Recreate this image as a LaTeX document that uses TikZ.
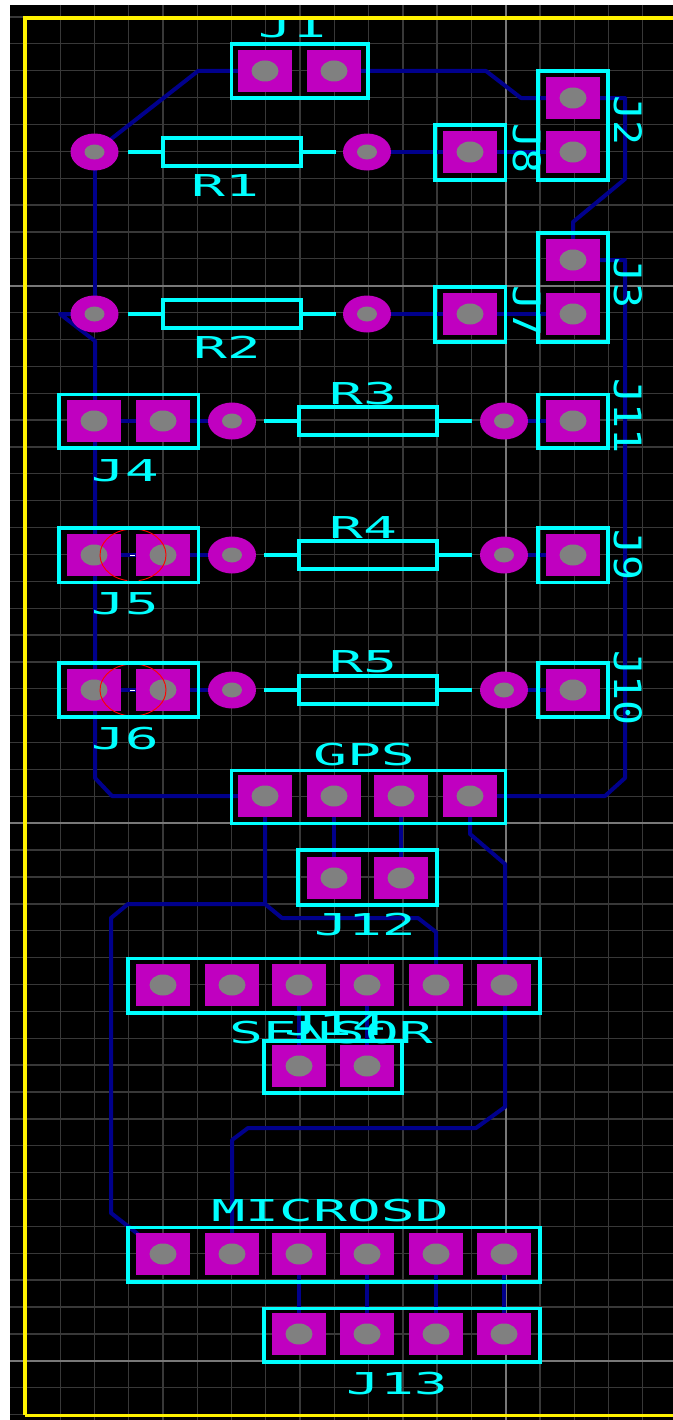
\documentclass[tikz,border=0pt]{standalone}
\usepackage{fontspec}
\setmainfont{DejaVu Sans Mono}
\usetikzlibrary{shapes.geometric}
\pgfdeclarelayer{boardlayer}
\pgfdeclarelayer{tracelayer}
\pgfsetlayers{boardlayer,tracelayer,main}
\definecolor{boardminor}{HTML}{383838}
\definecolor{boardmajor}{HTML}{787878}
\definecolor{padcol}{HTML}{C000C0}
\definecolor{holecol}{HTML}{808080}
\definecolor{tracecol}{HTML}{00008C}
\definecolor{silk}{HTML}{00FFFF}
\tikzset{
  padbox/.style={rectangle,fill=padcol,draw=none,inner sep=0pt,outer sep=0pt,minimum width=40.5pt,minimum height=31.5pt},
  viabox/.style={ellipse,fill=padcol,draw=none,inner sep=0pt,outer sep=0pt,minimum width=36pt,minimum height=27.75pt},
  holepad/.style={ellipse,fill=holecol,draw=none,inner sep=0pt,outer sep=0pt,minimum width=20.25pt,minimum height=15.75pt},
  holevia/.style={ellipse,fill=holecol,draw=none,inner sep=0pt,outer sep=0pt,minimum width=15pt,minimum height=11.25pt},
  silkline/.style={draw=silk,line width=2.4pt},
  lead/.style={draw=silk,line width=2.4pt},
  wire/.style={draw=tracecol,line width=3pt,line join=round},
  ref/.style={text=silk,inner sep=0pt,outer sep=0pt,text height=16.5pt,text depth=0pt,font=\fontsize{22.6}{23}\selectfont},
  hlabel/.style={ref,transform shape,xscale=1.87,yscale=1},
  vlabel/.style={ref,transform shape,rotate=-90,xscale=1.38,yscale=1.25},
}
\newcommand{\padat}[3]{\node[padbox] (#1) at (#2,#3) {};\node[holepad] (#1h) at (#2,#3) {};}
\newcommand{\viaat}[3]{\node[viabox] (#1) at (#2,#3) {};\node[holevia] (#1h) at (#2,#3) {};}
\newcommand{\resistor}[2]{% x1, y
  \draw[silkline] (#1,#2-14) rectangle (#1+138,#2+14);
  \draw[lead] (#1-35,#2) -- (#1,#2);
  \draw[lead] (#1+138,#2) -- (#1+173,#2);}
\begin{document}
\begin{tikzpicture}[x=0.75pt,y=-0.75pt]
\useasboundingbox (0,0) rectangle (672,1420);
\begin{pgfonlayer}{boardlayer}
\fill[white] (0,0) rectangle (700,1420);
\fill[black] (10,5) rectangle (700,1420);
\begin{scope}
\clip (10,5) rectangle (700,1420);
\foreach \k in {-13,...,5} {\draw[boardminor,line width=1pt] (505.7+34.27*\k,5) -- (505.7+34.27*\k,1420);}
\foreach \k in {-10,...,42} {\draw[boardminor,line width=1pt] (10,285.7+26.875*\k) -- (700,285.7+26.875*\k);}
\draw[boardmajor,line width=1.5pt] (505.7,5) -- (505.7,1420);
\foreach \yy in {285.7,822.5,1361} {\draw[boardmajor,line width=1.5pt] (10,\yy) -- (700,\yy);}
\end{scope}
\end{pgfonlayer}

% pads
\padat{jA}{265}{71}\padat{jB}{334}{71}
\padat{jiiA}{573}{98}\padat{jiiB}{573}{152}
\padat{jiiiA}{573}{260}\padat{jiiiB}{573}{314}
\padat{jviii}{470}{152}\padat{jvii}{470}{314}
\padat{jivA}{94}{421}\padat{jivB}{163}{421}
\padat{jvA}{94}{555}\padat{jvB}{163}{555}
\padat{jviA}{94}{690}\padat{jviB}{163}{690}
\padat{jxi}{573}{421}\padat{jix}{573}{555}\padat{jx}{573}{690}
\padat{gA}{265}{796}\padat{gB}{334}{796}\padat{gC}{401}{796}\padat{gD}{470}{796}
\padat{jxiiA}{334}{878}\padat{jxiiB}{401}{878}
\padat{kA}{163}{985}\padat{kB}{232}{985}\padat{kC}{299}{985}\padat{kD}{367}{985}\padat{kE}{436}{985}\padat{kF}{504}{985}
\padat{sA}{299}{1066}\padat{sB}{367}{1066}
\padat{mA}{163}{1254}\padat{mB}{232}{1254}\padat{mC}{299}{1254}\padat{mD}{367}{1254}\padat{mE}{436}{1254}\padat{mF}{504}{1254}
\padat{nA}{299}{1334}\padat{nB}{367}{1334}\padat{nC}{436}{1334}\padat{nD}{504}{1334}
% vias
\viaat{vA}{94.5}{152}\viaat{vB}{367}{152}
\viaat{vC}{94.5}{314}\viaat{vD}{367}{314}
\viaat{vE}{232}{421}\viaat{vF}{504}{421}
\viaat{vG}{232}{555}\viaat{vH}{504}{555}
\viaat{vI}{232}{690}\viaat{vJ}{504}{690}

% traces
\begin{pgfonlayer}{tracelayer}
\draw[wire] (vA.center) -- (198,71) -- (jA.center);
\draw[wire] (jB.center) -- (486,71) -- (521,98) -- (jiiA.center);
\draw[wire] (jiiA.center) -- (625,98) -- (625,179) -- (573,222) -- (jiiiA.center);
\draw[wire] (vB.center) -- (jviii.center) -- (jiiB.center);
\draw[wire] (vD.center) -- (jvii.center) -- (jiiiB.center);
\draw[wire] (vA.center) -- (vC.center);
\draw[wire] (vC.center) -- (60,314) -- (95,341) -- (95,778) -- (112,796) -- (gA.center);
\draw[wire] (jiiiA.center) -- (625,260) -- (625,778) -- (605,796) -- (gD.center);
\draw[wire] (jivA.center) -- (jivB.center) -- (vE.center);
\draw[wire] (jvA.center) -- (jvB.center) -- (vG.center);
\draw[wire] (jviA.center) -- (jviB.center) -- (vI.center);
\draw[wire] (vF.center) -- (jxi.center);
\draw[wire] (vH.center) -- (jix.center);
\draw[wire] (vJ.center) -- (jx.center);
\draw[wire] (gB.center) -- (jxiiA.center);
\draw[wire] (gC.center) -- (jxiiB.center);
\draw[wire] (gA.center) -- (265,904) -- (282,918) -- (418,918) -- (436,932) -- (kE.center);
\draw[wire] (265,904) -- (128,904) -- (111,918) -- (111,1213) -- (129,1227) -- (mA.center);
\draw[wire] (gD.center) -- (470,834) -- (505,864) -- (505,1107) -- (476,1128) -- (248,1128) -- (232,1140) -- (mB.center);
\draw[wire] (kC.center) -- (sA.center);
\draw[wire] (kD.center) -- (sB.center);
\draw[wire] (mC.center) -- (nA.center);
\draw[wire] (mD.center) -- (nB.center);
\draw[wire] (mE.center) -- (nC.center);
\draw[wire] (mF.center) -- (nD.center);
\end{pgfonlayer}

% red circles and centre marks
\foreach \yy in {555,690} {
  \draw[red,line width=0.7pt] (133,\yy) ++(100:33 and 26) arc[start angle=100,end angle=260,x radius=33,y radius=26];
  \draw[red,line width=0.7pt] (133,\yy) ++(-80:33 and 26) arc[start angle=-80,end angle=80,x radius=33,y radius=26];
  \draw[white,line width=0.5pt] (130,\yy) -- (135,\yy);
}

% resistors
\resistor{163}{152}
\resistor{163}{314}
\resistor{299}{421}
\resistor{299}{555}
\resistor{299}{690}

% labels
\begin{scope}
\clip (10,19) rectangle (672,1420);
\node[hlabel] (lJ1) at (292,27) {J1};
\end{scope}
\node[hlabel] (lR1) at (225,185) {R1};
\node[hlabel] (lR2) at (227,347) {R2};
\node[hlabel] (lR3) at (363,393) {R3};
\node[hlabel] (lR4) at (363,527) {R4};
\node[hlabel] (lR5) at (363,661) {R5};
\node[hlabel] (lJ4) at (125,470) {J4};
\node[hlabel] (lJ5) at (125,603) {J5};
\node[hlabel] (lJ6) at (125,738) {J6};
\node[hlabel] (lGPS) at (364,754) {GPS};
\node[hlabel] (lJ12) at (365,924) {J12};
\node[hlabel] (lJ14) at (335,1024) {J14};
\node[hlabel] (lSENSOR) at (331,1032) {SENSOR};
\node[hlabel] (lMICROSD) at (330,1210) {MICROSD};
\node[hlabel] (lJ13) at (397,1383) {J13};
\node[vlabel] (lJ8) at (527,149) {J8};
\node[vlabel] (lJ7) at (527,311) {J7};
\node[vlabel] (lJ2) at (628,121) {J2};
\node[vlabel] (lJ3) at (628,283) {J3};
\node[vlabel] (lJ11) at (628,416) {J11};
\node[vlabel] (lJ9) at (628,555) {J9};
\node[vlabel] (lJ10) at (628,688) {J10};

% silkscreen outlines
\draw[silkline] (231.5,44) rectangle (368,98);
\draw[silkline] (538,71) rectangle (608,180);
\draw[silkline] (538,233) rectangle (608,342);
\draw[silkline] (435,125) rectangle (505.5,180);
\draw[silkline] (435,287) rectangle (505.5,342);
\draw[silkline] (59,394.5) rectangle (198.5,448);
\draw[silkline] (59,528) rectangle (198.5,582.5);
\draw[silkline] (59,663) rectangle (198.5,717);
\draw[silkline] (538,394.5) rectangle (608,448);
\draw[silkline] (538,528) rectangle (608,582.5);
\draw[silkline] (538,663) rectangle (608,717);
\draw[silkline] (231.5,770.5) rectangle (505.5,823.5);
\draw[silkline] (298,850) rectangle (437,905);
\draw[silkline] (128,958.5) rectangle (540,1013);
\draw[silkline] (264,1041) rectangle (402,1093);
\draw[silkline] (128,1227.5) rectangle (540,1282);
\draw[silkline] (264,1308.5) rectangle (540,1362);

% board edge
\draw[yellow,line width=2.6pt] (25,1415) -- (25,18) -- (700,18);
\draw[yellow,line width=2.6pt] (25,1415.5) -- (700,1415.5);
\end{tikzpicture}
\end{document}
